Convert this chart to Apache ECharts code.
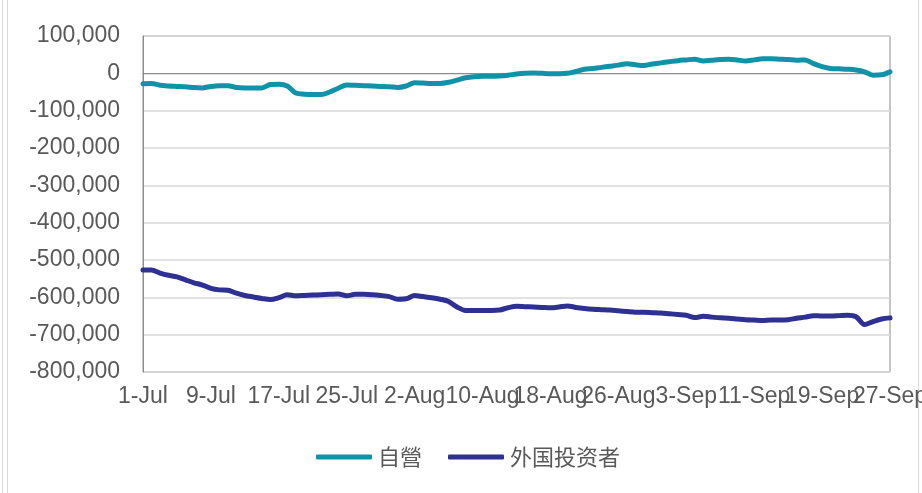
<!DOCTYPE html>
<html>
<head>
<meta charset="utf-8">
<script src="https://cdn.jsdelivr.net/npm/echarts@6/dist/echarts.min.js"></script>
<style>
html,body{margin:0;padding:0;background:#fff;}
#c{width:922px;height:493px;}
</style>
</head>
<body>
<div id="c"></div>
<script>
// Daily categories 1-Jul .. 27-Sep
const monthNames = ['Jul','Aug','Sep'];
const monthDays = [31,31,27];
const categories = [];
for (let m = 0; m < 3; m++) {
  for (let d = 1; d <= monthDays[m]; d++) categories.push(d + '-' + monthNames[m]);
}

const seriesNames = ['自營', '外国投资者'];

// 自營 (thousands)
const proprietary = [
  -28,-27,-32,-34,-35,-36,-38,-39,-35,-33,
  -33,-38,-39,-39,-39,-30,-29,-34,-53,-56,
  -57,-57,-50,-40,-31,-32,-33,-34,-35,-36,
  -38,-34,-25,-26,-27,-27,-24,-18,-12,-9,
  -8,-8,-7,-5,-2,0,1,0,-1,-1,
  0,5,11,13,16,19,22,26,23,21,
  25,28,31,34,36,38,33,35,37,38,
  36,33,36,39,39,38,37,35,36,26,
  18,13,12,11,9,4,-5,-4,4
].map(v => v * 1000);

// 外国投资者 (thousands)
const foreign = [
  -527,-527,-535,-541,-545,-553,-561,-567,-576,-580,
  -581,-589,-595,-599,-603,-606,-601,-593,-596,-595,
  -594,-593,-592,-591,-596,-592,-592,-593,-595,-598,
  -605,-604,-595,-598,-601,-605,-611,-626,-635,-635,
  -635,-635,-634,-628,-624,-625,-626,-627,-628,-626,
  -623,-627,-630,-632,-633,-634,-636,-638,-640,-640,
  -641,-642,-644,-646,-648,-654,-651,-653,-655,-656,
  -658,-660,-661,-662,-661,-661,-660,-656,-653,-649,
  -650,-650,-649,-648,-652,-673,-665,-658,-655
].map(v => v * 1000);

const yMin = -800000, yMax = 100000, yStep = 100000;
const labelEvery = 8;

const chart = echarts.init(document.getElementById('c'));
const font = 'Liberation Sans, Arial, sans-serif';
const xLabelBase = { hideOverlap: false, color: '#595959', fontSize: 23, margin: 13, fontFamily: font };
chart.setOption({
  animation: false,
  backgroundColor: '#fff',
  textStyle: { fontFamily: font },
  graphic: [
    { type: 'line', shape: { x1: 2.5, y1: 0, x2: 2.5, y2: 493 }, style: { stroke: '#d9d9d9', lineWidth: 1 } },
    { type: 'line', shape: { x1: 7.5, y1: 0, x2: 7.5, y2: 493 }, style: { stroke: '#d9d9d9', lineWidth: 1 } },
    { type: 'line', shape: { x1: 918.5, y1: 0, x2: 918.5, y2: 493 }, style: { stroke: '#d9d9d9', lineWidth: 1 } }
  ],
  grid: {
    left: 143, right: 32, top: 36, bottom: 121,
    outerBoundsMode: 'none',
    show: true, borderColor: '#8c8c8c', borderWidth: 1, backgroundColor: 'transparent'
  },
  legend: {
    data: seriesNames,
    left: 311, top: 441,
    icon: 'roundRect',
    itemWidth: 56, itemHeight: 5,
    itemGap: 26,
    textStyle: { fontSize: 22, color: '#595959', fontFamily: 'Noto Sans CJK SC, sans-serif', padding: [0, 0, 0, 1] }
  },
  xAxis: [
    {
      // labels 1-Jul, 17-Jul, 2-Aug, 18-Aug, 3-Sep, 19-Sep
      type: 'category',
      data: categories,
      boundaryGap: false,
      position: 'bottom',
      axisLine: { lineStyle: { color: '#8c8c8c', width: 1 } },
      axisTick: { show: false },
      axisLabel: Object.assign({}, xLabelBase, {
        interval: (i) => i % (labelEvery * 2) === 0
      }),
      splitLine: { show: false }
    },
    {
      // labels 9-Jul, 25-Jul, 10-Aug, 26-Aug, 11-Sep, 27-Sep
      type: 'category',
      data: categories,
      boundaryGap: false,
      position: 'bottom',
      offset: 0,
      axisLine: { show: false },
      axisTick: { show: false },
      axisLabel: Object.assign({}, xLabelBase, {
        interval: (i) => i % (labelEvery * 2) === labelEvery,
        showMaxLabel: true
      }),
      splitLine: { show: false }
    }
  ],
  yAxis: {
    type: 'value',
    min: yMin, max: yMax, interval: yStep,
    axisLine: { show: true, lineStyle: { color: '#8c8c8c', width: 1 } },
    axisTick: { show: false },
    axisLabel: {
      color: '#595959', fontSize: 23, margin: 23, fontFamily: font,
      formatter: v => v.toLocaleString('en-US')
    },
    splitLine: { lineStyle: { color: '#d9d9d9', width: 1.5 } }
  },
  series: [
    {
      name: seriesNames[0], type: 'line', data: proprietary, xAxisIndex: 0,
      symbol: 'none', smooth: 0.3,
      lineStyle: { color: '#1093a8', width: 5, cap: 'round', join: 'round' },
      itemStyle: { color: '#1093a8' }
    },
    {
      name: seriesNames[1], type: 'line', data: foreign, xAxisIndex: 0,
      symbol: 'none', smooth: 0.3,
      lineStyle: { color: '#2e3192', width: 5, cap: 'round', join: 'round' },
      itemStyle: { color: '#2e3192' }
    }
  ]
});
</script>
</body>
</html>
